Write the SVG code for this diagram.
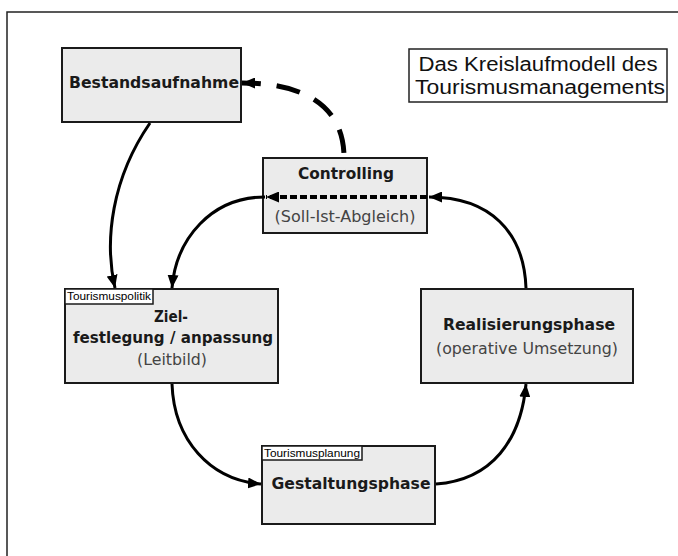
<svg xmlns="http://www.w3.org/2000/svg" width="678" height="556" viewBox="0 0 678 556">
<style>
.box{fill:#ebebeb;stroke:#1a1a1a;stroke-width:2}
.tab{fill:#ffffff;stroke:#1a1a1a;stroke-width:1.5}
.b{font-family:"DejaVu Sans",Verdana,sans-serif;font-weight:bold;font-size:15px;fill:#1a1a1a;text-anchor:middle}
.r{font-family:"DejaVu Sans",Verdana,sans-serif;font-size:15px;fill:#444;text-anchor:middle}
.t{font-family:"Liberation Sans",Arial,sans-serif;font-size:20px;fill:#111;text-anchor:middle}
.tab-t{font-family:"Liberation Sans",Arial,sans-serif;font-size:10px;fill:#000}
.c{fill:none;stroke:#000;stroke-width:3;marker-end:url(#arr)}
</style>
<defs>
<marker id="arr" markerUnits="userSpaceOnUse" markerWidth="13" markerHeight="11" refX="13" refY="5.5" orient="auto">
<path d="M0,0 L13,5.5 L0,11 z" fill="#000"/>
</marker>
</defs>
<rect width="678" height="556" fill="#fff"/>
<path d="M7,556 L7,12 L678,12" fill="none" stroke="#222" stroke-width="1.5"/>

<g id="title">
<rect x="409" y="49" width="258" height="53" fill="#fff" stroke="#222" stroke-width="1.5"/>
<text class="t" x="538" y="71" textLength="239" lengthAdjust="spacingAndGlyphs">Das Kreislaufmodell des</text>
<text class="t" x="540" y="94" textLength="250" lengthAdjust="spacingAndGlyphs">Tourismusmanagements</text>
</g>

<g id="bestandsaufnahme">
<rect class="box" x="62" y="48" width="179" height="74"/>
<text class="b" x="154" y="88" textLength="170" lengthAdjust="spacingAndGlyphs">Bestandsaufnahme</text>
</g>

<g id="controlling">
<rect class="box" x="263" y="158" width="164" height="75"/>
<text class="b" x="346" y="179" textLength="96" lengthAdjust="spacingAndGlyphs">Controlling</text>
<text class="r" x="345" y="222" textLength="141" lengthAdjust="spacingAndGlyphs">(Soll-Ist-Abgleich)</text>
</g>

<g id="zielfestlegung">
<rect class="box" x="65" y="289" width="213" height="94"/>
<rect class="tab" x="65" y="289" width="88" height="15"/>
<text class="tab-t" x="67" y="300" textLength="84" lengthAdjust="spacingAndGlyphs">Tourismuspolitik</text>
<text class="b" x="171" y="322" textLength="34" lengthAdjust="spacingAndGlyphs">Ziel-</text>
<text class="b" x="173" y="343" textLength="200" lengthAdjust="spacingAndGlyphs">festlegung / anpassung</text>
<text class="r" x="172" y="365" textLength="70" lengthAdjust="spacingAndGlyphs">(Leitbild)</text>
</g>

<g id="realisierungsphase">
<rect class="box" x="421" y="289" width="212" height="94"/>
<text class="b" x="529" y="330" textLength="172" lengthAdjust="spacingAndGlyphs">Realisierungsphase</text>
<text class="r" x="527" y="354" textLength="182" lengthAdjust="spacingAndGlyphs">(operative Umsetzung)</text>
</g>

<g id="gestaltungsphase">
<rect class="box" x="262" y="446" width="173" height="78"/>
<rect class="tab" x="262" y="446" width="100" height="14"/>
<text class="tab-t" x="264" y="457" textLength="96" lengthAdjust="spacingAndGlyphs">Tourismusplanung</text>
<text class="b" x="351" y="489" textLength="159" lengthAdjust="spacingAndGlyphs">Gestaltungsphase</text>
</g>

<g id="connectors">
<path class="c" d="M150,123 C112,178 104,240 115,288"/>
<path class="c" d="M265,197 C212,197 176,238 172,288"/>
<path class="c" d="M172,384 C174,440 210,480 261,484"/>
<path class="c" d="M436,484 C492,480 521,440 526,384"/>
<path class="c" d="M526,288 C524,232 490,197 429,197"/>
<path d="M427,197 L266,197" fill="none" stroke="#000" stroke-width="4" stroke-dasharray="7 3" marker-end="url(#arr)"/>
<path d="M344,157 C344,112 312,83 242,83" fill="none" stroke="#000" stroke-width="5" stroke-dasharray="24 16" stroke-dashoffset="-4" marker-end="url(#arr)"/>
</g>
</svg>
